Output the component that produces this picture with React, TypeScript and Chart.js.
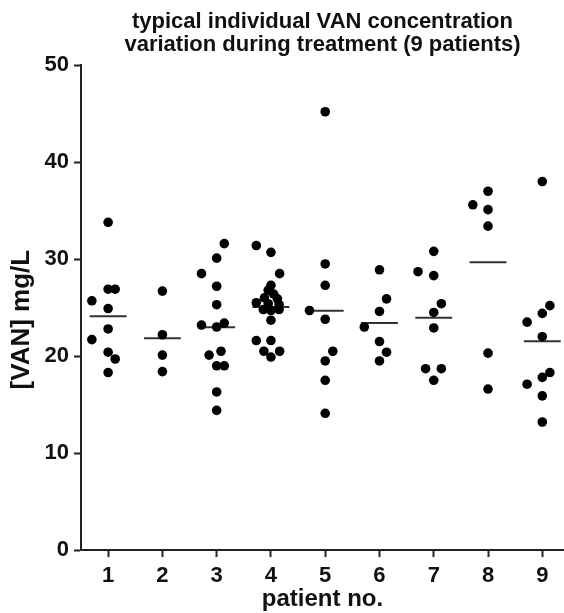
import { useEffect, useRef } from 'react';
import { Chart, registerables } from 'chart.js';

Chart.register(...registerables);

const patients = ['1', '2', '3', '4', '5', '6', '7', '8', '9'];
const yTicks = [0, 10, 20, 30, 40, 50];
const yTitle = '[VAN] mg/L';
const xTitle = 'patient no.';
const chartTitle = ['typical individual VAN concentration', 'variation during treatment (9 patients)'];

const p1 = [33.8, 26.9, 26.9, 25.7, 24.9, 22.8, 21.7, 20.4, 19.7, 18.3];
const p1Jitter = [0, 0, 0.13, -0.3, 0, 0, -0.3, 0, 0.13, 0];
const p2 = [26.7, 22.2, 20.1, 18.4];
const p2Jitter = [0, 0, 0, 0];
const p3 = [31.6, 30.1, 28.5, 27.2, 25.3, 23.2, 23.0, 23.4, 20.1, 20.5, 19.0, 19.0, 16.3, 14.4];
const p3Jitter = [0.14, 0, -0.28, 0, 0, -0.28, 0, 0.14, -0.14, 0.08, 0, 0.14, 0, 0];
const p4 = [31.4, 30.7, 28.5, 27.3, 26.8, 26.4, 26.0, 25.9, 25.5, 25.4, 25.3, 24.8, 24.7, 24.8, 23.7, 21.6, 21.6, 20.5, 20.5, 19.9];
const p4Jitter = [-0.27, 0, 0.16, 0, -0.05, 0.05, -0.12, 0.12, -0.27, -0.05, 0.15, -0.14, 0, 0.15, 0, -0.27, 0, -0.13, 0.16, 0];
const p5 = [45.2, 29.5, 27.3, 24.7, 23.8, 20.5, 19.5, 17.5, 14.1];
const p5Jitter = [0, 0, 0, -0.29, 0, 0.14, 0, 0, 0];
const p6 = [28.9, 25.9, 24.6, 23.0, 21.5, 20.4, 19.5];
const p6Jitter = [0, 0.13, 0, -0.28, 0, 0.13, 0];
const p7 = [30.8, 28.7, 28.3, 25.4, 24.5, 22.9, 18.7, 18.7, 17.5];
const p7Jitter = [0, -0.29, 0, 0.14, 0, 0, -0.15, 0.14, 0];
const p8 = [37.0, 35.6, 35.1, 33.4, 20.3, 16.6];
const p8Jitter = [0, -0.28, 0, 0, 0, 0];
const p9 = [38.0, 25.2, 24.4, 23.5, 22.0, 18.3, 17.8, 17.1, 15.9, 13.2];
const p9Jitter = [0, 0.14, 0, -0.28, 0, 0.14, 0, -0.28, 0, 0];

const FONT = '"Liberation Sans", Arial, Helvetica, sans-serif';
const INK = '#111111';
const AXIS = '#222222';

const yTitlePlugin = {
  id: 'yTitleText',
  afterDraw(chart: any) {
    const { ctx, chartArea } = chart;
    ctx.save();
    ctx.translate(22, (chartArea.top + chartArea.bottom) / 2 + 12);
    ctx.rotate(-Math.PI / 2);
    ctx.fillStyle = INK;
    ctx.font = `bold 26px ${FONT}`;
    ctx.textAlign = 'center';
    ctx.textBaseline = 'middle';
    ctx.fillText(yTitle, 0, 0);
    ctx.restore();
  },
};

export default function App() {
  const ref = useRef<HTMLCanvasElement | null>(null);

  useEffect(() => {
    if (!ref.current) return;
    const groups = [p1, p2, p3, p4, p5, p6, p7, p8, p9];
    const jitters = [p1Jitter, p2Jitter, p3Jitter, p4Jitter, p5Jitter, p6Jitter, p7Jitter, p8Jitter, p9Jitter];

    const points = groups.flatMap((vals, i) =>
      vals.map((v, j) => ({ x: i + 1 + jitters[i][j], y: v }))
    );

    const meanSets = groups.map((vals, i) => {
      const m = vals.reduce((a, b) => a + b, 0) / vals.length;
      return {
        type: 'line' as const,
        data: [
          { x: i + 1 - 0.34, y: m },
          { x: i + 1 + 0.34, y: m },
        ],
        borderColor: '#333333',
        borderWidth: 2,
        pointRadius: 0,
        showLine: true,
        fill: false,
      };
    });

    const chart = new Chart(ref.current, {
      type: 'scatter',
      data: {
        datasets: [
          {
            data: points,
            backgroundColor: '#000000',
            borderColor: '#000000',
            borderWidth: 0,
            pointRadius: 4.8,
            pointHoverRadius: 4.8,
          },
          ...meanSets,
        ] as any,
      },
      plugins: [yTitlePlugin],
      options: {
        animation: false,
        responsive: false,
        devicePixelRatio: 1,
        layout: { autoPadding: false, padding: { left: 0, top: 0, bottom: 0, right: 0 } },
        plugins: {
          legend: { display: false },
          tooltip: { enabled: false },
          title: {
            display: true,
            fullSize: false,
            text: chartTitle,
            color: INK,
            font: { family: FONT, size: 22, weight: 'bold', lineHeight: 1.05 },
            padding: { top: 10, bottom: 9 },
          },
        },
        scales: {
          x: {
            type: 'linear',
            min: 0.5,
            max: 9.4,
            afterBuildTicks: (s: any) => {
              s.ticks = patients.map((_, i) => ({ value: i + 1 }));
            },
            afterFit: (s: any) => {
              s.height = 63;
            },
            ticks: {
              autoSkip: false,
              maxRotation: 0,
              padding: 6,
              color: INK,
              font: { family: FONT, size: 22, weight: 'bold' },
              callback: (v: any) => patients[Math.round(Number(v)) - 1] ?? '',
            },
            grid: {
              display: true,
              drawOnChartArea: false,
              drawTicks: true,
              tickLength: 7,
              tickColor: AXIS,
              tickWidth: 2,
            },
            border: { display: true, color: AXIS, width: 2 },
            title: {
              display: true,
              text: xTitle,
              color: INK,
              font: { family: FONT, size: 24, weight: 'bold', lineHeight: 1.1 },
              padding: { top: 0, bottom: 0 },
            },
          },
          y: {
            type: 'linear',
            min: 0,
            max: 50,
            afterBuildTicks: (s: any) => {
              s.ticks = yTicks.map((v) => ({ value: v }));
            },
            afterFit: (s: any) => {
              s.width = 81;
            },
            ticks: {
              padding: 5,
              color: INK,
              font: { family: FONT, size: 22, weight: 'bold' },
            },
            grid: {
              display: true,
              drawOnChartArea: false,
              drawTicks: true,
              tickLength: 7,
              tickColor: AXIS,
              tickWidth: 2,
            },
            border: { display: true, color: AXIS, width: 2 },
            title: { display: false },
          },
        },
      } as any,
    });

    return () => chart.destroy();
  }, []);

  return (
    <div style={{ position: 'fixed', left: 0, top: 0, width: 564, height: 613, background: '#ffffff' }}>
      <canvas ref={ref} width={564} height={613} style={{ display: 'block', width: 564, height: 613 }} />
    </div>
  );
}
